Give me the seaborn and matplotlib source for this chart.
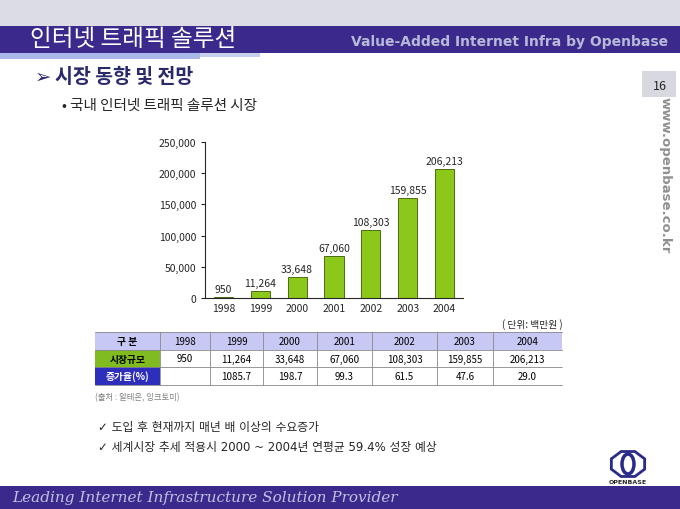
import seaborn as sns
import pandas as pd
import matplotlib.pyplot as plt
from matplotlib.patches import Rectangle, RegularPolygon, Ellipse

sns.set_style("white")
plt.rcParams["font.family"] = ["Noto Sans CJK KR", "DejaVu Sans"]
plt.rcParams["axes.unicode_minus"] = False

df = pd.DataFrame({
    "year": ["1998", "1999", "2000", "2001", "2002", "2003", "2004"],
    "size": [950, 11264, 33648, 67060, 108303, 159855, 206213],
    "rate": ["", "1085.7", "198.7", "99.3", "61.5", "47.6", "29.0"],
})

W, H = 680, 510
fig = plt.figure(figsize=(6.8, 5.1), dpi=100)

def px(x, y):  # 픽셀 좌표 -> figure 좌표
    return x / W, 1 - y / H

def rect(x, y, w, h, color, **kw):
    fig.patches.append(Rectangle((x / W, 1 - (y + h) / H), w / W, h / H,
                                 transform=fig.transFigure, facecolor=color,
                                 edgecolor=kw.pop("ec", "none"), **kw))

def text(x, y, s, **kw):
    fig.text(*px(x, y), s, **kw)

# 상단 / 하단 바
rect(0, 0, W, 27, "#dcdce4")
rect(0, 27, W, 27, "#3b2a8c")
rect(0, 54, 200, 6, "#a8b8e8")
rect(200, 54, 60, 4, "#c8d0f0")
text(30, 40, "인터넷 트래픽 솔루션", color="white", fontsize=17, va="center")
text(668, 42, "Value-Added Internet Infra by Openbase", color="#b8b8d8",
     fontsize=10, fontweight="bold", ha="right", va="center", family="DejaVu Sans")
rect(0, 487, W, 23, "#3b2a8c")
text(12, 498, "Leading Internet Infrastructure Solution Provider", color="#c0c0e0",
     fontsize=11, style="italic", va="center", family="DejaVu Serif")

# 제목들
text(35, 77, "➢", fontsize=14, va="center", color="#2a2a6a", family="DejaVu Sans")
text(55, 77, "시장 동향 및 전망", fontsize=14, va="center", color="#2a2a6a", fontweight="bold")
text(62, 106, "• 국내 인터넷 트래픽 솔루션 시장", fontsize=10.5, va="center")
rect(642, 72, 34, 26, "#d8d8e0")
text(660, 86, "16", fontsize=9, ha="center", va="center")
text(665, 175, "www.openbase.co.kr", fontsize=9.5, rotation=270, color="#909090",
     fontweight="bold", ha="center", va="center", family="DejaVu Sans")

# 막대 그래프
ax = fig.add_axes([205 / W, 1 - 299 / H, 258 / W, 156 / H])
sns.barplot(data=df, x="year", y="size", color="#8cc81a", edgecolor="#3a5a00",
            linewidth=0.6, width=0.52, saturation=1, ax=ax)
ax.set_ylim(0, 250000)
ax.set_yticks(range(0, 250001, 50000))
ax.set_yticklabels([f"{v:,}" for v in range(0, 250001, 50000)], fontsize=7.5)
ax.tick_params(axis="x", labelsize=7.5, length=0)
ax.tick_params(axis="y", length=3, left=True)
ax.set_xlabel("")
ax.set_ylabel("")
for side in ["top", "right"]:
    ax.spines[side].set_visible(False)
for p, v in zip(ax.patches, df["size"]):
    ax.text(p.get_x() + p.get_width() / 2, v + 5000, f"{v:,}",
            ha="center", va="bottom", fontsize=7.5)

text(563, 325, "( 단위: 백만원 )", fontsize=7, ha="right", va="center")

# 표
cols = [95, 160, 210, 263, 317, 372, 437, 493, 562]
rows = [333, 351, 368, 386]
rect(95, 333, 467, 18, "#c8c8f4")
rect(95, 351, 65, 17, "#80bc20")
rect(95, 368, 65, 18, "#2e2ebc")
cells = [["구 분"] + list(df["year"]),
         ["시장규모"] + [f"{v:,}" for v in df["size"]],
         ["증가율(%)"] + list(df["rate"])]
for r, row in enumerate(cells):
    for c, s in enumerate(row):
        cx = (cols[c] + cols[c + 1]) / 2
        cy = (rows[r] + rows[r + 1]) / 2
        color = "white" if (c == 0 and r == 2) else "black"
        text(cx, cy, s, fontsize=7, ha="center", va="center", color=color,
             fontweight="bold" if c == 0 else "normal")
for y in rows:
    fig.add_artist(plt.Line2D([95 / W, 562 / W], [1 - y / H] * 2, color="#888888", lw=0.6))
for x in cols[1:-1]:
    fig.add_artist(plt.Line2D([x / W] * 2, [1 - 333 / H, 1 - 386 / H], color="#888888", lw=0.6))

text(95, 398, "(출처 : 알테온, 잉크토미)", fontsize=6, color="#808080", va="center")
text(98, 428, "✓ 도입 후 현재까지 매년 배 이상의 수요증가", fontsize=8.5, va="center",
     family=["DejaVu Sans", "Noto Sans CJK KR"])
text(98, 448, "✓ 세계시장 추세 적용시 2000 ~ 2004년 연평균 59.4% 성장 예상", fontsize=8.5,
     va="center", family=["DejaVu Sans", "Noto Sans CJK KR"])

# 로고
fig.patches.append(RegularPolygon(px(628, 465), 8, radius=18 / W, orientation=0.39,
                                  transform=fig.transFigure, facecolor="white",
                                  edgecolor="#2a2a8a", lw=2))
fig.patches.append(Ellipse(px(628, 465), 12 / W, 20 / H, transform=fig.transFigure,
                           facecolor="none", edgecolor="#2a2a8a", lw=2.5))
text(628, 483, "OPENBASE", fontsize=4.5, ha="center", va="center", fontweight="bold",
     family="DejaVu Sans")

fig.savefig("out.png", dpi=100)
